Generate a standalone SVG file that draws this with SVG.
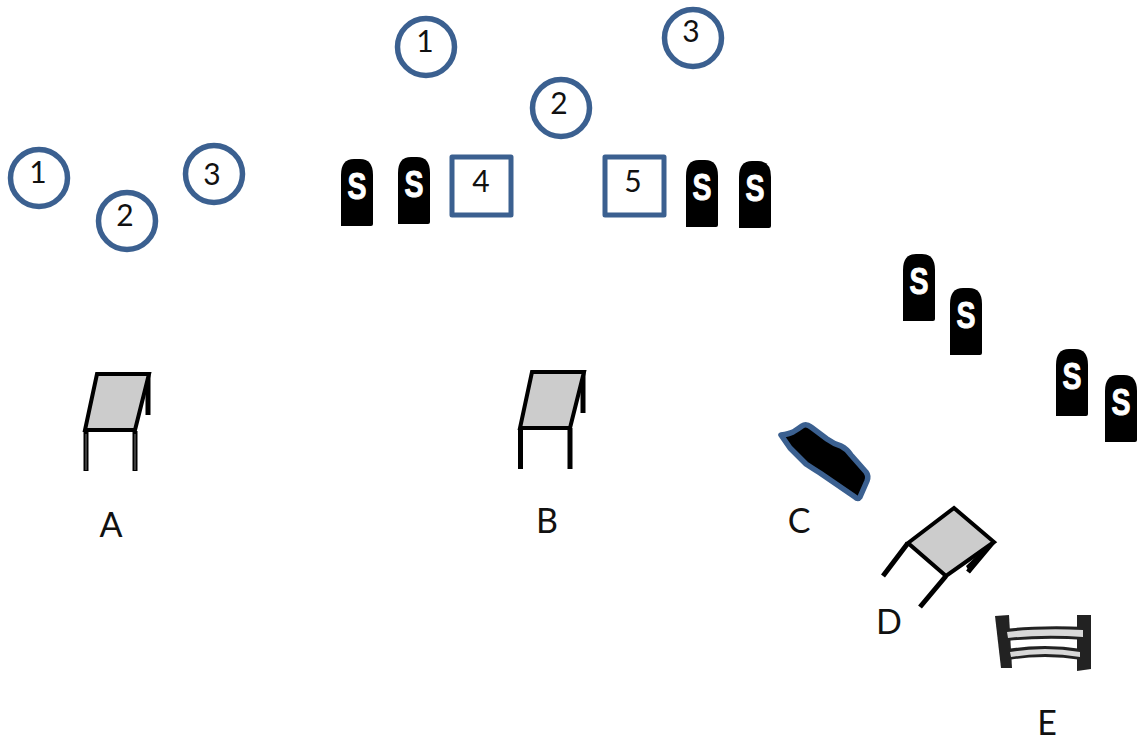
<svg xmlns="http://www.w3.org/2000/svg" xmlns:xlink="http://www.w3.org/1999/xlink" width="1146" height="742" viewBox="0 0 1146 742">
<style>
text{font-family:Lato,"Open Sans","Liberation Sans",sans-serif;fill:#111;text-anchor:middle}
.n{font-size:30px}.l{font-size:34px}
.c{fill:#fff;stroke:#3b6090;stroke-width:5.500}
.r{fill:#fff;stroke:#3b6090;stroke-width:5;stroke-linejoin:round}
.t{fill:#ccc;stroke:#000;stroke-width:4;stroke-linejoin:miter}
.leg{fill:none;stroke:#000;stroke-width:5}
.in{fill:none;stroke:#777;stroke-width:1}
.s{fill:#fff;stroke:#fff;stroke-width:1;font-family:"Liberation Sans",sans-serif;font-weight:700;font-size:37px}
</style>
<defs>
<g id="stone"><path d="M0 67V16Q0 0 13 0H19Q32 0 32 16V65Q32 67 30 67Z" fill="#000"/></g>
<filter id="soft" x="-5%" y="-5%" width="110%" height="110%"><feGaussianBlur stdDeviation="0.700"/></filter>
</defs>
<g id="circle-a1"><circle class="c" cx="39" cy="178" r="28.500"/><text class="n" x="38" y="183">1</text></g>
<g id="circle-a2"><circle class="c" cx="127" cy="221" r="28.500"/><text class="n" x="125" y="226">2</text></g>
<g id="circle-a3"><circle class="c" cx="214" cy="174" r="28.500"/><text class="n" x="212" y="185">3</text></g>
<g id="circle-b1"><circle class="c" cx="426" cy="47" r="28.500"/><text class="n" x="425" y="52">1</text></g>
<g id="circle-b2"><circle class="c" cx="561" cy="108" r="28.500"/><text class="n" x="559" y="114">2</text></g>
<g id="circle-b3"><circle class="c" cx="693" cy="38" r="28.500"/><text class="n" x="691" y="42">3</text></g>
<g id="square-4"><rect class="r" x="452" y="157" width="59" height="58"/><text class="n" x="481" y="192">4</text></g>
<g id="square-5"><rect class="r" x="605" y="157" width="59" height="58"/><text class="n" x="633" y="192">5</text></g>
<g id="stone-1"><use xlink:href="#stone" href="#stone" x="341" y="159"/><text class="s" x="357" y="199" textLength="19" lengthAdjust="spacingAndGlyphs">S</text></g>
<g id="stone-2"><use xlink:href="#stone" href="#stone" x="398" y="157"/><text class="s" x="414" y="197" textLength="19" lengthAdjust="spacingAndGlyphs">S</text></g>
<g id="stone-3"><use xlink:href="#stone" href="#stone" x="686" y="160"/><text class="s" x="702" y="200" textLength="19" lengthAdjust="spacingAndGlyphs">S</text></g>
<g id="stone-4"><use xlink:href="#stone" href="#stone" x="739" y="161"/><text class="s" x="755" y="201" textLength="19" lengthAdjust="spacingAndGlyphs">S</text></g>
<g id="stone-5"><use xlink:href="#stone" href="#stone" x="903" y="254"/><text class="s" x="919" y="294" textLength="19" lengthAdjust="spacingAndGlyphs">S</text></g>
<g id="stone-6"><use xlink:href="#stone" href="#stone" x="950" y="288"/><text class="s" x="966" y="328" textLength="19" lengthAdjust="spacingAndGlyphs">S</text></g>
<g id="stone-7"><use xlink:href="#stone" href="#stone" x="1056" y="349"/><text class="s" x="1072" y="389" textLength="19" lengthAdjust="spacingAndGlyphs">S</text></g>
<g id="stone-8"><use xlink:href="#stone" href="#stone" x="1105" y="375"/><text class="s" x="1121" y="415" textLength="19" lengthAdjust="spacingAndGlyphs">S</text></g>
<g id="table-a">
<path class="leg" d="M86 431V471M135 431V471M148 374V415"/>
<path class="in" d="M86 434V470M135 434V470"/>
<path d="M149 375L146 415H150Z" fill="#000"/>
<path class="t" d="M97 374H149L135 430H85Z"/>
<text class="l" x="111" y="537">A</text>
</g>
<g id="table-b">
<path class="leg" d="M520.500 428V469M570 428V469M583 371V413"/>
<path class="t" d="M532 372H584L570 428H520Z"/>
<text class="l" x="547" y="533">B</text>
</g>
<g id="shape-c">
<path d="M781 435Q789 434 793 432Q798 429 802 426Q806 423 811 427L827 439Q834 444 841 446Q847 449 851 455L866 472Q869 476 867 481L860 497Q858 500 855 497L820 473Q812 468 806 464Q797 455 790 448Z" fill="#000" stroke="#3b6090" stroke-width="5.500" stroke-linejoin="round"/>
<text class="l" x="799" y="533">C</text>
</g>
<g id="table-d">
<path class="leg" d="M908 543L883 576M946 576L920 607M994 541L968 572"/>
<path d="M992 541L966 566L970 573Z" fill="#000"/>
<path class="t" d="M954 508L994 542L946 576L908 543Z"/>
<text class="l" x="889" y="634">D</text>
</g>
<g id="fence-e">
<g filter="url(#soft)">
<path d="M995 616L1009 615L1012 668L1001 668Z" fill="#222"/>
<path d="M1077 615H1091L1091 669L1077 671Z" fill="#222"/>
<path d="M1004 629Q1040 625 1086 627V640Q1045 637 1006 641ZM1007 649Q1045 643 1082 649V660Q1045 654 1008 660Z" fill="#222"/>
<path d="M1007 632Q1040 628 1083 630V637Q1045 634 1008 638ZM1010 652Q1045 646 1080 652V657Q1045 651 1011 657Z" fill="#d8d8d8"/>
</g>
<text class="l" x="1047" y="735">E</text>
</g>
</svg>
